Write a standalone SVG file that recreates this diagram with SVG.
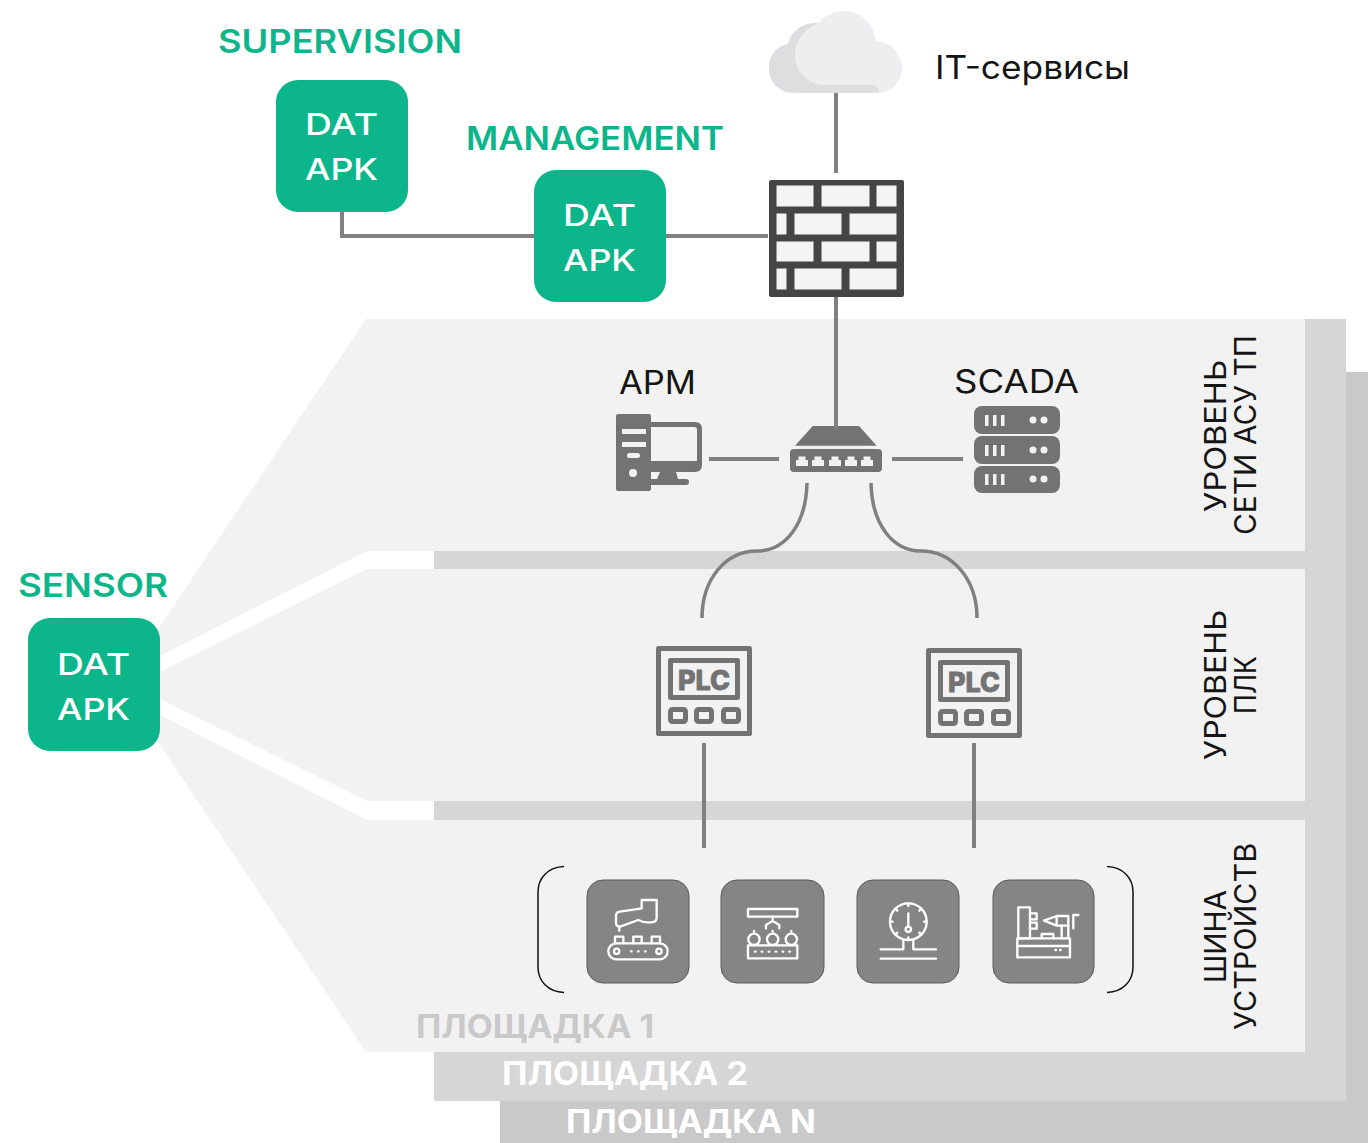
<svg xmlns="http://www.w3.org/2000/svg" width="1368" height="1143" viewBox="0 0 1368 1143">
<style>
text{font-family:"Inter","Liberation Sans",sans-serif}
.g{font-size:32px;font-weight:600;fill:#0cb68a}
.w{font-size:30px;font-weight:500;fill:#fff}
.k{font-size:32px;font-weight:400;fill:#151515}
.v{font-size:30px;font-weight:400;fill:#151515;text-anchor:middle}
.s{font-size:32px;font-weight:700}
.c{fill:none;stroke:#808080;stroke-width:4}
.box{fill:#0cb68a}
.ic{fill:#737373}
.bg{fill:#f2f2f2}
.t{fill:#858585;stroke:#5a5a5a;stroke-width:1}
.i{fill:none;stroke:#fff;stroke-width:7;stroke-linejoin:round;stroke-linecap:round}
.br{fill:#f4f4f4}
.pl{fill:none;stroke:#737373;stroke-linejoin:round}
</style>
<g id="background">
<path d="M1346 372H1368V1143H500V1101H1346Z" fill="#c9c9c9"/>
<path d="M366 319H1346V1101H434V1052H366Z" fill="#d6d6d6"/>
<path d="M366 319H1305V1052H366L150 730V641Z" fill="#f2f2f2"/>
<path d="M160 655.700L367 551H434V569H367L160 671.700Z" fill="#fff"/>
<path d="M160 699L367 801H434V820H367L160 715Z" fill="#fff"/>
<rect x="434" y="551" width="872" height="18" fill="#d6d6d6"/>
<rect x="434" y="801" width="872" height="19" fill="#d6d6d6"/>
</g>
<g id="connectors">
<path class="c" d="M836 90V173"/>
<path class="c" d="M836 297V430"/>
<path class="c" d="M342 212V236H534"/>
<path class="c" d="M666 236H768"/>
<path class="c" d="M709 459H779"/>
<path class="c" d="M892 459H963"/>
<path class="c" style="stroke-width:3.500" d="M807 483C806 525 785 551 757 551C725 551 702 580 702 618"/>
<path class="c" style="stroke-width:3.500" d="M871 483C872 525 893 551 921 551C953 551 977 580 977 618"/>
<path class="c" d="M704 743V848"/>
<path class="c" d="M974 743V848"/>
</g>
<g id="supervision">
<text class="g" x="218" y="53" textLength="244" lengthAdjust="spacingAndGlyphs">SUPERVISION</text>
<rect class="box" x="276" y="80" width="132" height="132" rx="22"/>
<text class="w" x="305" y="135" textLength="73" lengthAdjust="spacingAndGlyphs">DAT</text>
<text class="w" x="305" y="180" textLength="73" lengthAdjust="spacingAndGlyphs">APK</text>
</g>
<g id="management">
<text class="g" x="466" y="150" textLength="258" lengthAdjust="spacingAndGlyphs">MANAGEMENT</text>
<rect class="box" x="534" y="170" width="132" height="132" rx="22"/>
<text class="w" x="563" y="226" textLength="73" lengthAdjust="spacingAndGlyphs">DAT</text>
<text class="w" x="563" y="271" textLength="73" lengthAdjust="spacingAndGlyphs">APK</text>
</g>
<g id="sensor">
<text class="g" x="18" y="597" textLength="150" lengthAdjust="spacingAndGlyphs">SENSOR</text>
<rect class="box" x="28" y="618" width="132" height="133" rx="22"/>
<text class="w" x="57" y="675" textLength="73" lengthAdjust="spacingAndGlyphs">DAT</text>
<text class="w" x="57" y="720" textLength="73" lengthAdjust="spacingAndGlyphs">APK</text>
</g>
<g id="cloud">
<path d="M795 93C778 93 769 81 769 68C769 55 777 46 788 44C791 31 803 22 818 23C825 15 835 11 845 11C861 11 873 23 876 41C891 42 902 54 902 68C902 82 891 93 876 93Z" fill="#eeeef1"/>
<path d="M795 93C778 93 769 81 769 68C769 55 777 46 788 44C791 31 803 22 818 23C803 30 795 41 795 55C795 72 808 85 826 85H873C877 85 879 88 879 93Z" fill="#dedee1"/>
<text class="k" x="935" y="79" textLength="195" lengthAdjust="spacingAndGlyphs">IT-сервисы</text>
</g>
<g id="firewall">
<rect x="769" y="180" width="135" height="117" rx="2" fill="#454545"/>
<g class="br">
<rect x="776.500" y="185.500" width="37" height="21"/><rect x="821.500" y="185.500" width="48" height="21"/><rect x="876.500" y="185.500" width="20" height="21"/>
<rect x="776.500" y="213.500" width="10" height="21"/><rect x="794.500" y="213.500" width="47" height="21"/><rect x="849.500" y="213.500" width="47" height="21"/>
<rect x="776.500" y="241.500" width="37" height="20"/><rect x="821.500" y="241.500" width="48" height="20"/><rect x="876.500" y="241.500" width="20" height="20"/>
<rect x="776.500" y="268.500" width="10" height="21"/><rect x="794.500" y="268.500" width="47" height="21"/><rect x="849.500" y="268.500" width="47" height="21"/>
</g>
</g>
<g id="apm">
<text class="k" x="619" y="394" textLength="77" lengthAdjust="spacingAndGlyphs">АРМ</text>
<path class="ic" d="M618 414H649Q651 414 651 416V489Q651 491 649 491H618Q616 491 616 489V416Q616 414 618 414Z"/>
<path class="ic" d="M651 422H695Q702 422 702 429V465Q702 472 695 472H676L678 479H686Q689 479 689 482Q689 485 686 485H651V479H657L660 472H651Z"/>
<path class="bg" d="M651 427H694Q697 427 697 430V461H651Z"/>
<path class="bg" d="M622 429H646V434H622ZM622 442H646V447H622Z"/>
<rect class="bg" x="627" y="453" width="13" height="5" rx="2.500"/>
<circle class="bg" cx="633" cy="473" r="4"/>
</g>
<g id="switch">
<path class="ic" d="M795 445.700L812.700 426H859L876.700 445.700Z"/>
<rect class="ic" x="790" y="449" width="92" height="23" rx="4"/>
<g fill="#f2f2f2">
<path d="M796 466V460H798.500V456.500H805.500V460H808V466Z"/>
<path d="M812 466V460H814.500V456.500H821.500V460H824V466Z"/>
<path d="M829 466V460H831.500V456.500H838.500V460H841V466Z"/>
<path d="M845 466V460H847.500V456.500H854.500V460H857V466Z"/>
<path d="M861 466V460H863.500V456.500H870.500V460H873V466Z"/>
</g>
<rect x="834" y="405" width="4" height="25" fill="#808080"/>
</g>
<g id="scada">
<text class="k" x="954" y="393" textLength="125" lengthAdjust="spacingAndGlyphs">SCADA</text>
<rect class="ic" x="974" y="406" width="86" height="28" rx="8"/>
<rect class="ic" x="974" y="436" width="86" height="28" rx="8"/>
<rect class="ic" x="974" y="466" width="86" height="27" rx="8"/>
<g fill="#f2f2f2">
<path d="M985 415h3.500v11h-3.500zM993 415h3.500v11h-3.500zM1001 415h3.500v11h-3.500zM985 445h3.500v11h-3.500zM993 445h3.500v11h-3.500zM1001 445h3.500v11h-3.500zM985 474h3.500v11h-3.500zM993 474h3.500v11h-3.500zM1001 474h3.500v11h-3.500z"/>
<circle cx="1033" cy="420" r="3.500"/><circle cx="1044" cy="420" r="3.500"/>
<circle cx="1033" cy="450" r="3.500"/><circle cx="1044" cy="450" r="3.500"/>
<circle cx="1033" cy="479" r="3.500"/><circle cx="1044" cy="479" r="3.500"/>
</g>
</g>
<g id="plc1">
<rect class="pl" x="658.500" y="648.500" width="91" height="85" stroke-width="5"/>
<rect class="pl" x="670.500" y="660.500" width="67" height="37" stroke-width="5"/>
<text x="704" y="690" text-anchor="middle" font-size="27" font-weight="800" fill="#737373" stroke="#737373" stroke-width=".8" textLength="52" lengthAdjust="spacingAndGlyphs">PLC</text>
<rect class="pl" x="670.500" y="709.500" width="15" height="12" rx="2" stroke-width="5"/>
<rect class="pl" x="696.500" y="709.500" width="15" height="12" rx="2" stroke-width="5"/>
<rect class="pl" x="723.500" y="709.500" width="15" height="12" rx="2" stroke-width="5"/>
</g>
<g id="plc2">
<rect class="pl" x="928.500" y="650.500" width="91" height="85" stroke-width="5"/>
<rect class="pl" x="940.500" y="662.500" width="67" height="37" stroke-width="5"/>
<text x="974" y="692" text-anchor="middle" font-size="27" font-weight="800" fill="#737373" stroke="#737373" stroke-width=".8" textLength="52" lengthAdjust="spacingAndGlyphs">PLC</text>
<rect class="pl" x="940.500" y="711.500" width="15" height="12" rx="2" stroke-width="5"/>
<rect class="pl" x="966.500" y="711.500" width="15" height="12" rx="2" stroke-width="5"/>
<rect class="pl" x="993.500" y="711.500" width="15" height="12" rx="2" stroke-width="5"/>
</g>
<g id="bracket-left"><path d="M564 866.500C548 867 538 878 538 892V967C538 981 548 992 564 992.500" fill="none" stroke="#111" stroke-width="1.500"/></g>
<g id="bracket-right"><path d="M1107 866.500C1123 867 1133 878 1133 892V967C1133 981 1123 992 1107 992.500" fill="none" stroke="#111" stroke-width="1.500"/></g>
<g id="device-robot">
<rect class="t" x="587" y="880" width="102" height="103" rx="16"/>
<g transform="translate(530 860) scale(.3333)">
<path class="i" d="M380 120H335V145L270 155Q258 156 258 168V188Q258 200 270 200L325 180Q338 187 352 187H365Q380 187 380 172Z"/>
<path class="i" d="M268 200V212"/>
<rect class="i" x="235" y="250" width="178" height="48" rx="24"/>
<circle class="i" cx="260" cy="274" r="8"/><circle class="i" cx="387" cy="274" r="8"/>
<path class="i" d="M255 250V230H280V250M310 250V230H335V250M365 250V230H390V250"/>
<path class="i" d="M303 274H305M324 274H326M345 274H347"/>
</g>
</g>
<g id="device-assembly">
<rect class="t" x="721" y="880" width="103" height="103" rx="16"/>
<g transform="translate(530 860) scale(.3333)">
<rect class="i" x="654" y="147" width="148" height="23"/>
<path class="i" d="M728 170V183M708 205V195L728 183L748 195V205"/>
<circle class="i" cx="672" cy="238" r="17"/><circle class="i" cx="728" cy="238" r="17"/><circle class="i" cx="784" cy="238" r="17"/>
<path class="i" d="M672 213V215M728 213V215M784 213V215"/>
<rect class="i" x="654" y="256" width="148" height="39"/>
<path class="i" d="M675 275H677M695 275H697M716 275H718M737 275H739M758 275H760M778 275H780"/>
</g>
</g>
<g id="device-gauge">
<rect class="t" x="857" y="880" width="102" height="103" rx="16"/>
<g transform="translate(840 860) scale(.3333)">
<circle class="i" cx="205" cy="185" r="55"/>
<path class="i" d="M205 160V200M205 130V138M205 232V240M150 185H158M252 185H260M166 146L172 152M244 146L238 152M166 224L172 218M244 224L238 218"/>
<circle class="i" cx="205" cy="208" r="8"/>
<path class="i" d="M190 240V268H122M220 240V268H288M122 296H288"/>
</g>
</g>
<g id="device-lathe">
<rect class="t" x="993" y="880" width="101" height="103" rx="16"/>
<g transform="translate(840 860) scale(.3333)">
<rect class="i" x="535" y="142" width="35" height="93"/>
<rect class="i" x="532" y="235" width="158" height="57"/>
<path class="i" d="M532 258H690M570 258H572M588 258H590M646 270H648M660 270H662"/>
<path class="i" d="M570 160H590V178H570M570 188H590V206H570"/>
<path class="i" d="M612 182L650 168H685V197H650ZM650 168V197"/>
<path class="i" d="M715 165H700V205M665 197V235M685 197V235M605 235V222H640V235"/>
</g>
</g>
<g id="labels">
<text class="v" transform="translate(1226 436) rotate(-90)" textLength="152" lengthAdjust="spacingAndGlyphs">УРОВЕНЬ</text>
<text class="v" transform="translate(1256 435) rotate(-90)" textLength="200" lengthAdjust="spacingAndGlyphs">СЕТИ АСУ ТП</text>
<text class="v" transform="translate(1226 685) rotate(-90)" textLength="150" lengthAdjust="spacingAndGlyphs">УРОВЕНЬ</text>
<text class="v" transform="translate(1256 685) rotate(-90)" textLength="58" lengthAdjust="spacingAndGlyphs">ПЛК</text>
<text class="v" transform="translate(1226 936.500) rotate(-90)" textLength="93" lengthAdjust="spacingAndGlyphs">ШИНА</text>
<text class="v" transform="translate(1256 936.500) rotate(-90)" textLength="187" lengthAdjust="spacingAndGlyphs">УСТРОЙСТВ</text>
<text class="s" x="416" y="1038" fill="#c9c9c9" textLength="238" lengthAdjust="spacingAndGlyphs">ПЛОЩАДКА 1</text>
<text class="s" x="502" y="1085" fill="#fff" textLength="246" lengthAdjust="spacingAndGlyphs">ПЛОЩАДКА 2</text>
<text class="s" x="566" y="1133" fill="#fff" textLength="250" lengthAdjust="spacingAndGlyphs">ПЛОЩАДКА N</text>
</g>
</svg>
